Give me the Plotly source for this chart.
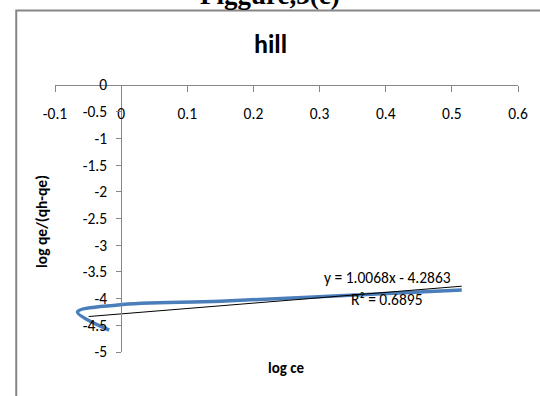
import plotly.graph_objects as go

# Hill isotherm linearisation data
log_ce = [-0.018, -0.066, -0.005, 0.15, 0.33, 0.515]
log_q = [-4.59, -4.25, -4.12, -4.05, -3.945, -3.84]

# Linear trendline reported on the chart
slope = 1.0068
intercept = -4.2863
r_squared = 0.6895

x_ticks = [-0.1, 0, 0.1, 0.2, 0.3, 0.4, 0.5, 0.6]
y_ticks = [0, -0.5, -1, -1.5, -2, -2.5, -3, -3.5, -4, -4.5, -5]

FONT = "Calibri, Carlito, Lato, sans-serif"
AXIS_GREY = "#868686"
TXT = 15.5

trend_x = [-0.049, max(log_ce)]
trend_y = [slope * v + intercept for v in trend_x]

fig = go.Figure()
fig.add_trace(go.Scatter(
    x=log_ce, y=log_q, mode="lines",
    line=dict(color="#4A7EBB", width=3.5, shape="spline", smoothing=1.0),
    showlegend=False, hoverinfo="x+y",
))
fig.add_trace(go.Scatter(
    x=trend_x, y=trend_y, mode="lines",
    line=dict(color="#000000", width=1),
    showlegend=False, hoverinfo="skip",
))

fig.update_layout(
    width=540, height=396,
    margin=dict(l=55, r=16.7, t=85, b=43.7),
    paper_bgcolor="white", plot_bgcolor="white",
    font=dict(family=FONT, size=TXT, color="#000000"),
    xaxis=dict(
        range=[-0.1, 0.6], tickvals=x_ticks,
        ticktext=[f"{v:g}" for v in x_ticks],
        showgrid=False, zeroline=False,
        showline=True, linecolor=AXIS_GREY, linewidth=1,
        ticks="outside", ticklen=6, tickcolor=AXIS_GREY,
        anchor="free", position=1, side="bottom",
        ticklabelstandoff=8,
        tickfont=dict(family=FONT, size=TXT, color="#000000"),
    ),
    yaxis=dict(
        range=[-5, 0], tickvals=y_ticks,
        ticktext=[f"{v:g}" for v in y_ticks],
        showgrid=False, zeroline=False,
        showline=True, linecolor=AXIS_GREY, linewidth=1,
        ticks="outside", ticklen=5, tickcolor=AXIS_GREY,
        anchor="free", position=1 / 7, side="left",
        ticklabelstandoff=6,
        tickfont=dict(family=FONT, size=TXT, color="#000000"),
    ),
    shapes=[dict(
        type="rect", xref="paper", yref="paper",
        x0=-0.0837, y0=-0.3, x1=1.2, y1=1.2787,
        line=dict(color=AXIS_GREY, width=2), layer="below",
    )],
    annotations=[
        dict(text="<b>Figgure,3(c)</b>", xref="paper", yref="paper",
             x=(272 - 55) / 468.3, y=1.3386, xanchor="center", yanchor="middle",
             showarrow=False,
             font=dict(family="Liberation Serif, Times New Roman, serif", size=27, color="#000000")),
        dict(text="<b>hill</b>", xref="paper", yref="paper",
             x=0.4655, y=1.1534, xanchor="center", yanchor="middle",
             showarrow=False, font=dict(family=FONT, size=26, color="#000000")),
        dict(text="<b>log ce</b>", xref="paper", yref="paper",
             x=0.4997, y=-0.0587, xanchor="center", yanchor="middle",
             showarrow=False, font=dict(family=FONT, size=15, color="#000000")),
        dict(text="<b>log qe/(qh-qe)</b>", xref="paper", yref="paper",
             x=-0.0278, y=0.4875, xanchor="center", yanchor="middle",
             textangle=-90, showarrow=False,
             font=dict(family=FONT, size=15.5, color="#000000")),
        dict(text=f"y = {slope:.4f}x - {abs(intercept):.4f}", xref="x", yref="y",
             x=0.402, y=-3.605, xanchor="center", yanchor="middle",
             showarrow=False, font=dict(family=FONT, size=TXT, color="#000000")),
        dict(text=f"R² = {r_squared:.4f}", xref="x", yref="y",
             x=0.402, y=-4.02, xanchor="center", yanchor="middle",
             showarrow=False, font=dict(family=FONT, size=TXT, color="#000000")),
    ],
)

fig.write_html("out.html")
